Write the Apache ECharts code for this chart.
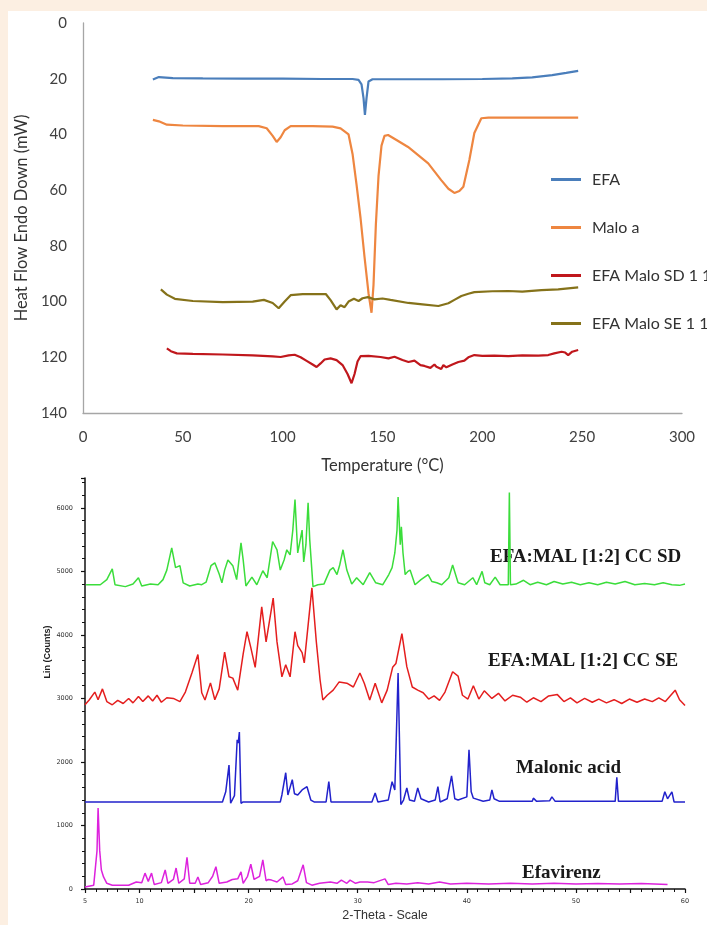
<!DOCTYPE html>
<html>
<head>
<meta charset="utf-8">
<script src="https://cdn.jsdelivr.net/npm/echarts@6/dist/echarts.min.js"></script>
<style>
  html, body { margin: 0; padding: 0; background: #FCEFE2; }
  #panel { position: absolute; left: 8px; top: 11px; width: 699px; height: 914px; background: #ffffff; }
  #main { position: absolute; left: 0; top: 0; width: 707px; height: 925px; }
</style>
</head>
<body>
<div id="panel"></div>
<div id="main"></div>
<script>
// DSC thermograms: [temperature (°C), heat flow (mW)]
var efaDSC = [[35,20.3],[38,19.4],[45,19.8],[60,19.9],[80,20],[100,20],[120,20.1],[135,20.1],[138,20.4],[139.5,22],[140.5,27],[141.2,33],[142,27],[143,21],[145,20.2],[160,20.2],[180,20.2],[200,20.1],[215,19.9],[225,19.5],[235,18.7],[242,17.9],[248,17.2]];
var maloDSC = [[35,34.8],[38,35.3],[42,36.5],[50,36.8],[70,37],[88,37],[92,37.8],[95,40.5],[97,42.7],[99,41],[101,38.5],[104,37],[115,37],[125,37.2],[129,37.8],[133,40],[135,47],[137,58],[139,70],[141,84],[143,97],[144.5,104],[145.5,94],[146.7,72],[148,55],[149.5,44],[151,40.5],[152.8,40.2],[157,42],[162.8,44.5],[168,47.5],[172.9,50.4],[179.4,56.4],[183,59.5],[186,61],[188.5,60.3],[190.5,58.8],[193.5,49.2],[196,39.5],[199.5,34.2],[203,34],[220,34],[248,34]];
var sdDSC = [[42,116.8],[44,117.8],[47,118.6],[55,118.8],[70,119],[85,119.3],[95,119.7],[99,119.9],[103,119.3],[106,119.1],[109,120],[112,121.3],[115,122.6],[117,123.5],[119,122.2],[121,120.8],[124,120.4],[127,121],[130,122.8],[132.5,126],[134.5,129.3],[136,126],[137.5,121.5],[139,119.6],[143,119.5],[149,119.9],[153,120.4],[156,119.8],[160,121],[163,121.7],[166,121.2],[169,122.8],[171,123.1],[174,123.8],[176,122.6],[177,123.4],[179.4,124.2],[180.5,122.8],[182,123.6],[185,122.6],[188,121.7],[191,121.2],[193,120],[196,119.2],[200,119.5],[206,119.4],[213,119.6],[220,119.3],[228,119.4],[233,119.2],[236,118.6],[239.7,118],[241.5,118.3],[243,119.2],[245,118],[248,117.4]];
var seDSC = [[39,95.6],[42,97.5],[46,99],[55,99.8],[70,100.2],[85,100],[90.6,99.4],[95,100.5],[98,102.4],[101,100],[104,97.7],[110,97.3],[121.6,97.3],[124,99.5],[127,102.8],[129,101.3],[131,102],[133,100],[135.7,99],[138,99.8],[140,98.8],[142.7,98.4],[146,99.2],[150,98.9],[154,99.4],[163,100.5],[170,101],[178,101.6],[183,100.6],[186,99.4],[189.5,98],[193,97.2],[196,96.6],[205,96.3],[213,96.2],[220,96.4],[229.6,95.9],[238,95.6],[248,94.9]];

// PXRD patterns (stacked): [2-theta, counts]
var sdXRD = [[5.1,4790],[6.4,4790],[7.0,4870],[7.5,5040],[7.75,4790],[8.7,4760],[9.4,4800],[9.9,4900],[10.2,4770],[11.0,4800],[11.7,4790],[12.15,4870],[12.5,5020],[12.95,5370],[13.3,5060],[13.7,5090],[14.0,4820],[14.6,4770],[15.35,4800],[15.7,4790],[16.1,4830],[16.55,5090],[16.9,5135],[17.3,4960],[17.55,4820],[17.8,5020],[18.1,5180],[18.55,5090],[18.9,4870],[19.3,5450],[19.5,5180],[19.75,4770],[20.3,4910],[20.75,4790],[21.3,5010],[21.7,4900],[22.2,5470],[22.6,5340],[22.9,5020],[23.25,5180],[23.5,5340],[23.8,5260],[24.05,5650],[24.25,6130],[24.5,5290],[24.9,5650],[25.05,5150],[25.25,5420],[25.45,6080],[25.6,5500],[25.9,4760],[26.35,4790],[26.9,4800],[27.45,5020],[27.75,5060],[28.1,4950],[28.35,5100],[28.65,5340],[29.0,5020],[29.45,4800],[29.9,4900],[30.5,4790],[31.1,4980],[31.65,4820],[32.3,4790],[32.85,4950],[33.15,5060],[33.4,5290],[33.6,5650],[33.7,6170],[33.9,5420],[34.0,5700],[34.15,5290],[34.35,4950],[34.6,5000],[34.8,5020],[35.25,4790],[35.8,4870],[36.45,4950],[36.8,4840],[37.25,4820],[37.7,4790],[38.35,4900],[38.7,5100],[39.2,4820],[39.8,4790],[40.55,4900],[40.9,4790],[41.4,5000],[41.65,4820],[42.1,4790],[42.6,4910],[43.05,4790],[43.5,4790],[43.8,4790],[43.9,6240],[44.0,4790],[44.5,4800],[45.2,4860],[45.8,4790],[46.5,4830],[47.3,4790],[48.0,4840],[48.8,4800],[49.6,4830],[50.4,4790],[51.2,4820],[52.0,4790],[52.8,4830],[53.6,4800],[54.5,4840],[55.4,4790],[56.3,4810],[57.2,4790],[58.0,4820],[58.8,4790],[59.5,4780],[60,4800]];
var seXRD = [[5.0,2900],[5.4,2980],[5.9,3100],[6.2,2980],[6.6,3150],[7.0,2950],[7.5,2900],[8.0,2970],[8.5,2920],[9.0,3000],[9.4,2930],[9.9,3030],[10.3,2950],[10.8,3040],[11.2,2960],[11.6,3050],[12.0,2940],[12.5,3010],[13.1,3000],[13.7,2950],[14.2,3100],[14.8,3400],[15.35,3690],[15.7,3090],[16.0,2975],[16.5,3245],[16.9,2980],[17.3,3150],[17.8,3730],[18.2,3340],[18.55,3320],[19.0,3130],[19.5,3700],[19.85,4050],[20.2,3800],[20.6,3490],[21.2,4440],[21.6,3890],[22.25,4580],[22.6,3890],[23.05,3340],[23.4,3530],[23.8,3340],[24.25,4050],[24.5,3830],[24.9,3720],[25.1,3560],[25.8,4740],[26.2,3900],[26.55,3290],[26.8,2975],[27.2,3050],[27.75,3130],[28.3,3260],[29.0,3240],[29.6,3180],[30.2,3400],[30.6,3240],[31.1,2975],[31.6,3240],[32.2,2930],[32.7,3130],[33.2,3490],[33.5,3550],[34.05,4020],[34.5,3500],[35.0,3180],[35.5,3130],[36.0,3090],[36.5,2990],[37.0,3040],[37.5,2970],[38.0,3100],[38.7,3420],[39.2,3350],[39.6,3050],[40.1,2990],[40.6,3200],[41.1,2990],[41.6,3120],[42.3,3000],[42.9,3080],[43.5,2960],[44.2,3050],[44.9,3020],[45.5,2940],[46.1,3010],[46.8,2950],[47.5,3040],[48.3,3060],[48.9,2950],[49.5,3010],[50.1,2930],[50.8,3000],[51.5,2940],[52.1,2990],[52.8,2930],[53.5,2980],[54.2,2920],[54.9,2990],[55.6,2940],[56.3,2990],[57.0,2950],[57.6,3010],[58.2,2950],[58.7,3050],[59.1,3130],[59.5,2980],[60,2890]];
var maloXRD = [[5,1370],[17.6,1370],[17.9,1530],[18.2,1950],[18.35,1350],[18.7,1470],[18.85,1450],[18.95,2350],[19.05,2300],[19.15,2470],[19.3,1350],[19.5,1370],[22.9,1370],[23.05,1480],[23.4,1830],[23.6,1480],[23.75,1450],[24.0,1720],[24.2,1500],[24.5,1480],[24.9,1560],[25.35,1610],[25.7,1400],[26.0,1370],[27.1,1370],[27.35,1690],[27.55,1370],[31.3,1370],[31.6,1510],[31.85,1370],[32.8,1400],[33.15,1690],[33.4,1560],[33.7,3400],[33.95,1330],[34.2,1400],[34.5,1590],[34.75,1400],[35.2,1380],[35.5,1590],[35.8,1420],[36.5,1370],[37.1,1400],[37.35,1610],[37.55,1370],[38.2,1420],[38.6,1780],[38.9,1420],[39.2,1400],[40.0,1450],[40.2,2190],[40.4,1530],[40.6,1430],[41.5,1380],[42.1,1400],[42.3,1560],[42.5,1420],[43.0,1380],[46.0,1380],[46.1,1430],[46.4,1380],[47.6,1390],[47.8,1450],[48.1,1380],[52.0,1380],[53.6,1380],[53.75,1760],[53.9,1380],[57.9,1380],[58.15,1530],[58.4,1420],[58.8,1530],[59.0,1370],[60,1370]];
var efaXRD = [[5,30],[5.8,60],[6.1,600],[6.2,1275],[6.35,600],[6.5,300],[6.7,190],[7.0,90],[7.5,60],[9.0,60],[9.7,110],[10.2,100],[10.5,250],[10.8,120],[11.1,250],[11.35,70],[12.0,100],[12.35,300],[12.6,90],[13.1,150],[13.35,330],[13.6,90],[14.1,160],[14.35,500],[14.6,90],[15.1,90],[15.35,190],[15.6,70],[16.3,100],[16.7,200],[17.0,350],[17.3,90],[18.0,110],[18.5,150],[19.0,160],[19.3,270],[19.5,90],[19.9,200],[20.2,390],[20.5,150],[21.0,200],[21.3,460],[21.6,130],[21.8,150],[22.1,140],[22.6,110],[23.15,190],[23.4,70],[24.0,80],[24.5,130],[25.0,380],[25.3,100],[25.8,60],[26.5,90],[27.5,110],[28.1,90],[28.5,140],[29.0,90],[29.3,140],[29.8,90],[30.2,110],[30.9,110],[31.5,100],[32.5,160],[32.8,70],[33.5,90],[34.5,80],[35.5,100],[36.5,80],[37.5,110],[38.5,80],[40,90],[42,80],[44,90],[46,80],[48,90],[50,80],[52,85],[54,80],[56,85],[58.4,70]];

var dscNames = ['EFA', 'Malo a', 'EFA Malo SD 1 1', 'EFA Malo SE 1 1'];
var xrdNames = ['EFA:MAL [1:2] CC SD', 'EFA:MAL [1:2] CC SE', 'Malonic acid', 'Efavirenz'];

var chart = echarts.init(document.getElementById('main'));
var grayAxis = { lineStyle: { color: '#A6A6A6', width: 1.3 }, onZero: false };
var blackAxis = { lineStyle: { color: '#111', width: 1.5 }, onZero: false };
var tinyLabel = { color: '#333', fontSize: 6.5, fontFamily: 'DejaVu Sans' };
var labelFont = 'bold 19px "Liberation Serif"';

function dscLine(name, data, color) {
  return { name: name, type: 'line', xAxisIndex: 0, yAxisIndex: 0, data: data, showSymbol: false,
    lineStyle: { color: color, width: 2.2 }, itemStyle: { color: color } };
}
function xrdLine(name, data, color) {
  return { name: name, type: 'line', xAxisIndex: 1, yAxisIndex: 1, data: data, showSymbol: false,
    lineStyle: { color: color, width: 1.5 }, itemStyle: { color: color } };
}

var option = {
  animation: false,
  grid: [
    { left: 83, top: 23, width: 599, height: 390 },
    { left: 85, top: 478, width: 600, height: 411 }
  ],
  legend: {
    data: dscNames,
    orient: 'vertical',
    left: 546, top: 166,
    icon: 'rect', itemWidth: 30, itemHeight: 3, itemGap: 31,
    textStyle: { fontFamily: 'Lato', fontSize: 16, color: '#333', lineHeight: 17, padding: [0, 0, 0, 6] }
  },
  xAxis: [
    { type: 'value', gridIndex: 0, min: 0, max: 300, interval: 50,
      axisLine: grayAxis, axisTick: { show: false }, splitLine: { show: false },
      axisLabel: { color: '#404040', fontSize: 15, fontFamily: 'Lato', margin: 17 },
      name: 'Temperature (°C)', nameLocation: 'middle', nameGap: 44,
      nameTextStyle: { color: '#333', fontSize: 16.5, fontFamily: 'Lato' } },
    { type: 'value', gridIndex: 1, min: 5, max: 60, interval: 5,
      axisLine: blackAxis, splitLine: { show: false },
      axisTick: { length: 4, lineStyle: { color: '#111', width: 1.2 } },
      minorTick: { show: true, splitNumber: 5, length: 3, lineStyle: { color: '#111' } },
      axisLabel: Object.assign({ margin: 9, formatter: function (v) { return (v % 10 === 0 || v === 5) ? String(v) : ''; } }, tinyLabel),
      name: '2-Theta - Scale', nameLocation: 'middle', nameGap: 20,
      nameTextStyle: { color: '#333', fontSize: 12.5, fontFamily: 'Liberation Sans' } }
  ],
  yAxis: [
    { type: 'value', gridIndex: 0, min: 0, max: 140, interval: 20, inverse: true,
      axisLine: Object.assign({ show: true }, grayAxis), axisTick: { show: false }, splitLine: { show: false },
      axisLabel: { color: '#404040', fontSize: 15, fontFamily: 'Lato', margin: 16 },
      name: 'Heat Flow Endo Down (mW)', nameLocation: 'middle', nameGap: 41,
      nameTextStyle: { color: '#333', fontSize: 16.5, fontFamily: 'Lato' } },
    { type: 'value', gridIndex: 1, min: 0, max: 6470, interval: 1000,
      axisLine: Object.assign({ show: true }, blackAxis), splitLine: { show: false },
      axisTick: { length: 4, lineStyle: { color: '#111', width: 1.2 } },
      minorTick: { show: true, splitNumber: 5, length: 3, lineStyle: { color: '#111' } },
      axisLabel: Object.assign({ margin: 12, showMaxLabel: false, formatter: function (v) { return String(v); } }, tinyLabel) }
  ],
  graphic: [
    { type: 'text', x: 48, y: 652, rotation: Math.PI / 2,
      style: { text: 'Lin (Counts)', font: 'bold 9px "Liberation Sans"', fill: '#222', align: 'center', verticalAlign: 'middle' } },
    { type: 'text', x: 490, y: 557, style: { text: xrdNames[0], font: labelFont, fill: '#1a1a1a', verticalAlign: 'middle' } },
    { type: 'text', x: 488, y: 661, style: { text: xrdNames[1], font: labelFont, fill: '#1a1a1a', verticalAlign: 'middle' } },
    { type: 'text', x: 516, y: 768, style: { text: xrdNames[2], font: labelFont, fill: '#1a1a1a', verticalAlign: 'middle' } },
    { type: 'text', x: 522, y: 873, style: { text: xrdNames[3], font: labelFont, fill: '#1a1a1a', verticalAlign: 'middle' } }
  ],
  series: [
    dscLine(dscNames[0], efaDSC, '#4A7EBB'),
    dscLine(dscNames[1], maloDSC, '#EE8640'),
    dscLine(dscNames[2], sdDSC, '#C0171C'),
    dscLine(dscNames[3], seDSC, '#85721A'),
    xrdLine(xrdNames[3], efaXRD, '#DD22DD'),
    xrdLine(xrdNames[2], maloXRD, '#2222CC'),
    xrdLine(xrdNames[1], seXRD, '#E41E1E'),
    xrdLine(xrdNames[0], sdXRD, '#3BDD3B')
  ]
};
chart.setOption(option);
</script>
</body>
</html>
